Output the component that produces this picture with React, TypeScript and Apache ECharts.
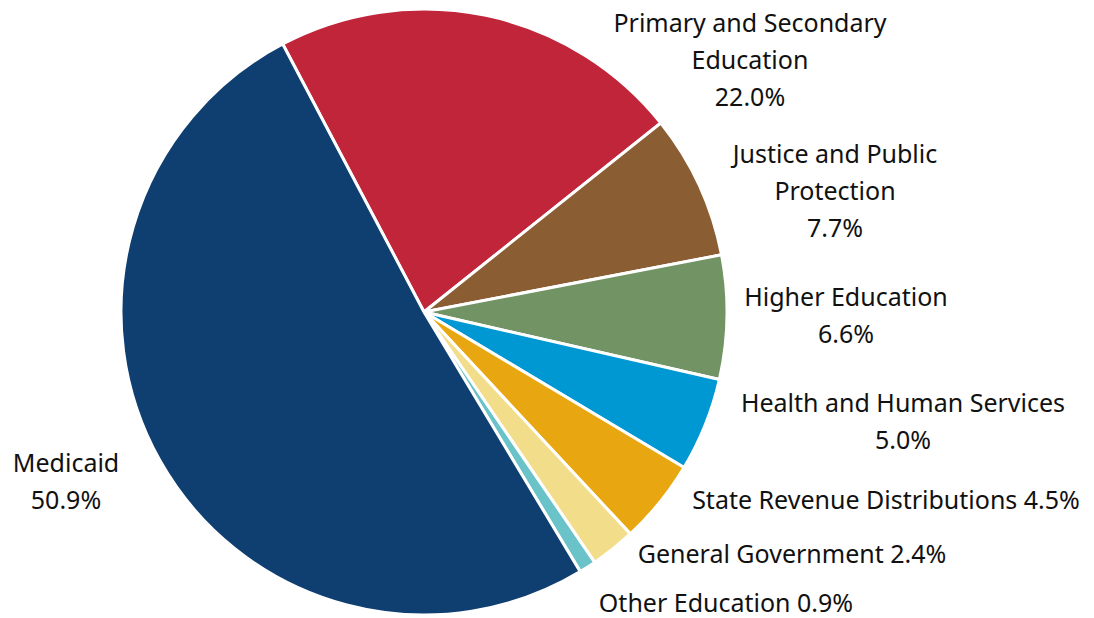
import React, { useEffect, useRef } from "react";
import * as echarts from "echarts";

const categories = [
  "Primary and Secondary Education",
  "Justice and Public Protection",
  "Higher Education",
  "Health and Human Services",
  "State Revenue Distributions",
  "General Government",
  "Other Education",
  "Medicaid",
];
const labelNames = [
  "Primary and Secondary\nEducation\n",
  "Justice and Public\nProtection\n",
  "Higher Education\n",
  "Health and Human Services\n",
  "State Revenue Distributions ",
  "General Government ",
  "Other Education ",
  "Medicaid\n",
];
const shares = [22.0, 7.7, 6.6, 5.0, 4.5, 2.4, 0.9, 50.9];
const colors = ["#C1253A", "#8A5D33", "#729363", "#0098D2", "#E8A710", "#F2DD8A", "#6AC3C8", "#0F3E71"];

// label anchor positions (layout, not data)
const labelPos: [number, number][] = [
  [750, 59],
  [835, 190],
  [846, 314],
  [903, 420],
  [886, 499],
  [792, 553],
  [726, 602],
  [66, 480],
];

export default function App() {
  const ref = useRef<HTMLDivElement>(null);
  useEffect(() => {
    document.body.style.margin = "0";
    const chart = echarts.init(ref.current!, null, { renderer: "svg" });
    chart.setOption({
      animation: false,
      backgroundColor: "#ffffff",
      series: [
        {
          type: "pie",
          center: [424, 312],
          radius: 303,
          startAngle: 117.8,
          clockwise: true,
          data: categories.map((c, i) => ({
            name: c,
            value: shares[i],
            itemStyle: { color: colors[i] },
          })),
          itemStyle: { borderColor: "#ffffff", borderWidth: 3 },
          label: {
            show: true,
            position: "outside",
            formatter: (p: any) => labelNames[p.dataIndex] + shares[p.dataIndex].toFixed(1) + "%",
            fontFamily: "Noto Sans",
            fontSize: 25,
            lineHeight: 37,
            color: "#111111",
            align: "center",
            overflow: "none",
            width: 500,
          },
          labelLine: { show: false },
          labelLayout: (params: any) => {
            const p = labelPos[params.dataIndex];
            return { x: p[0], y: p[1], align: "center", verticalAlign: "middle" };
          },
          emphasis: { disabled: true },
        },
      ],
    });
    return () => chart.dispose();
  }, []);
  return <div ref={ref} style={{ width: 1094, height: 618 }} />;
}
